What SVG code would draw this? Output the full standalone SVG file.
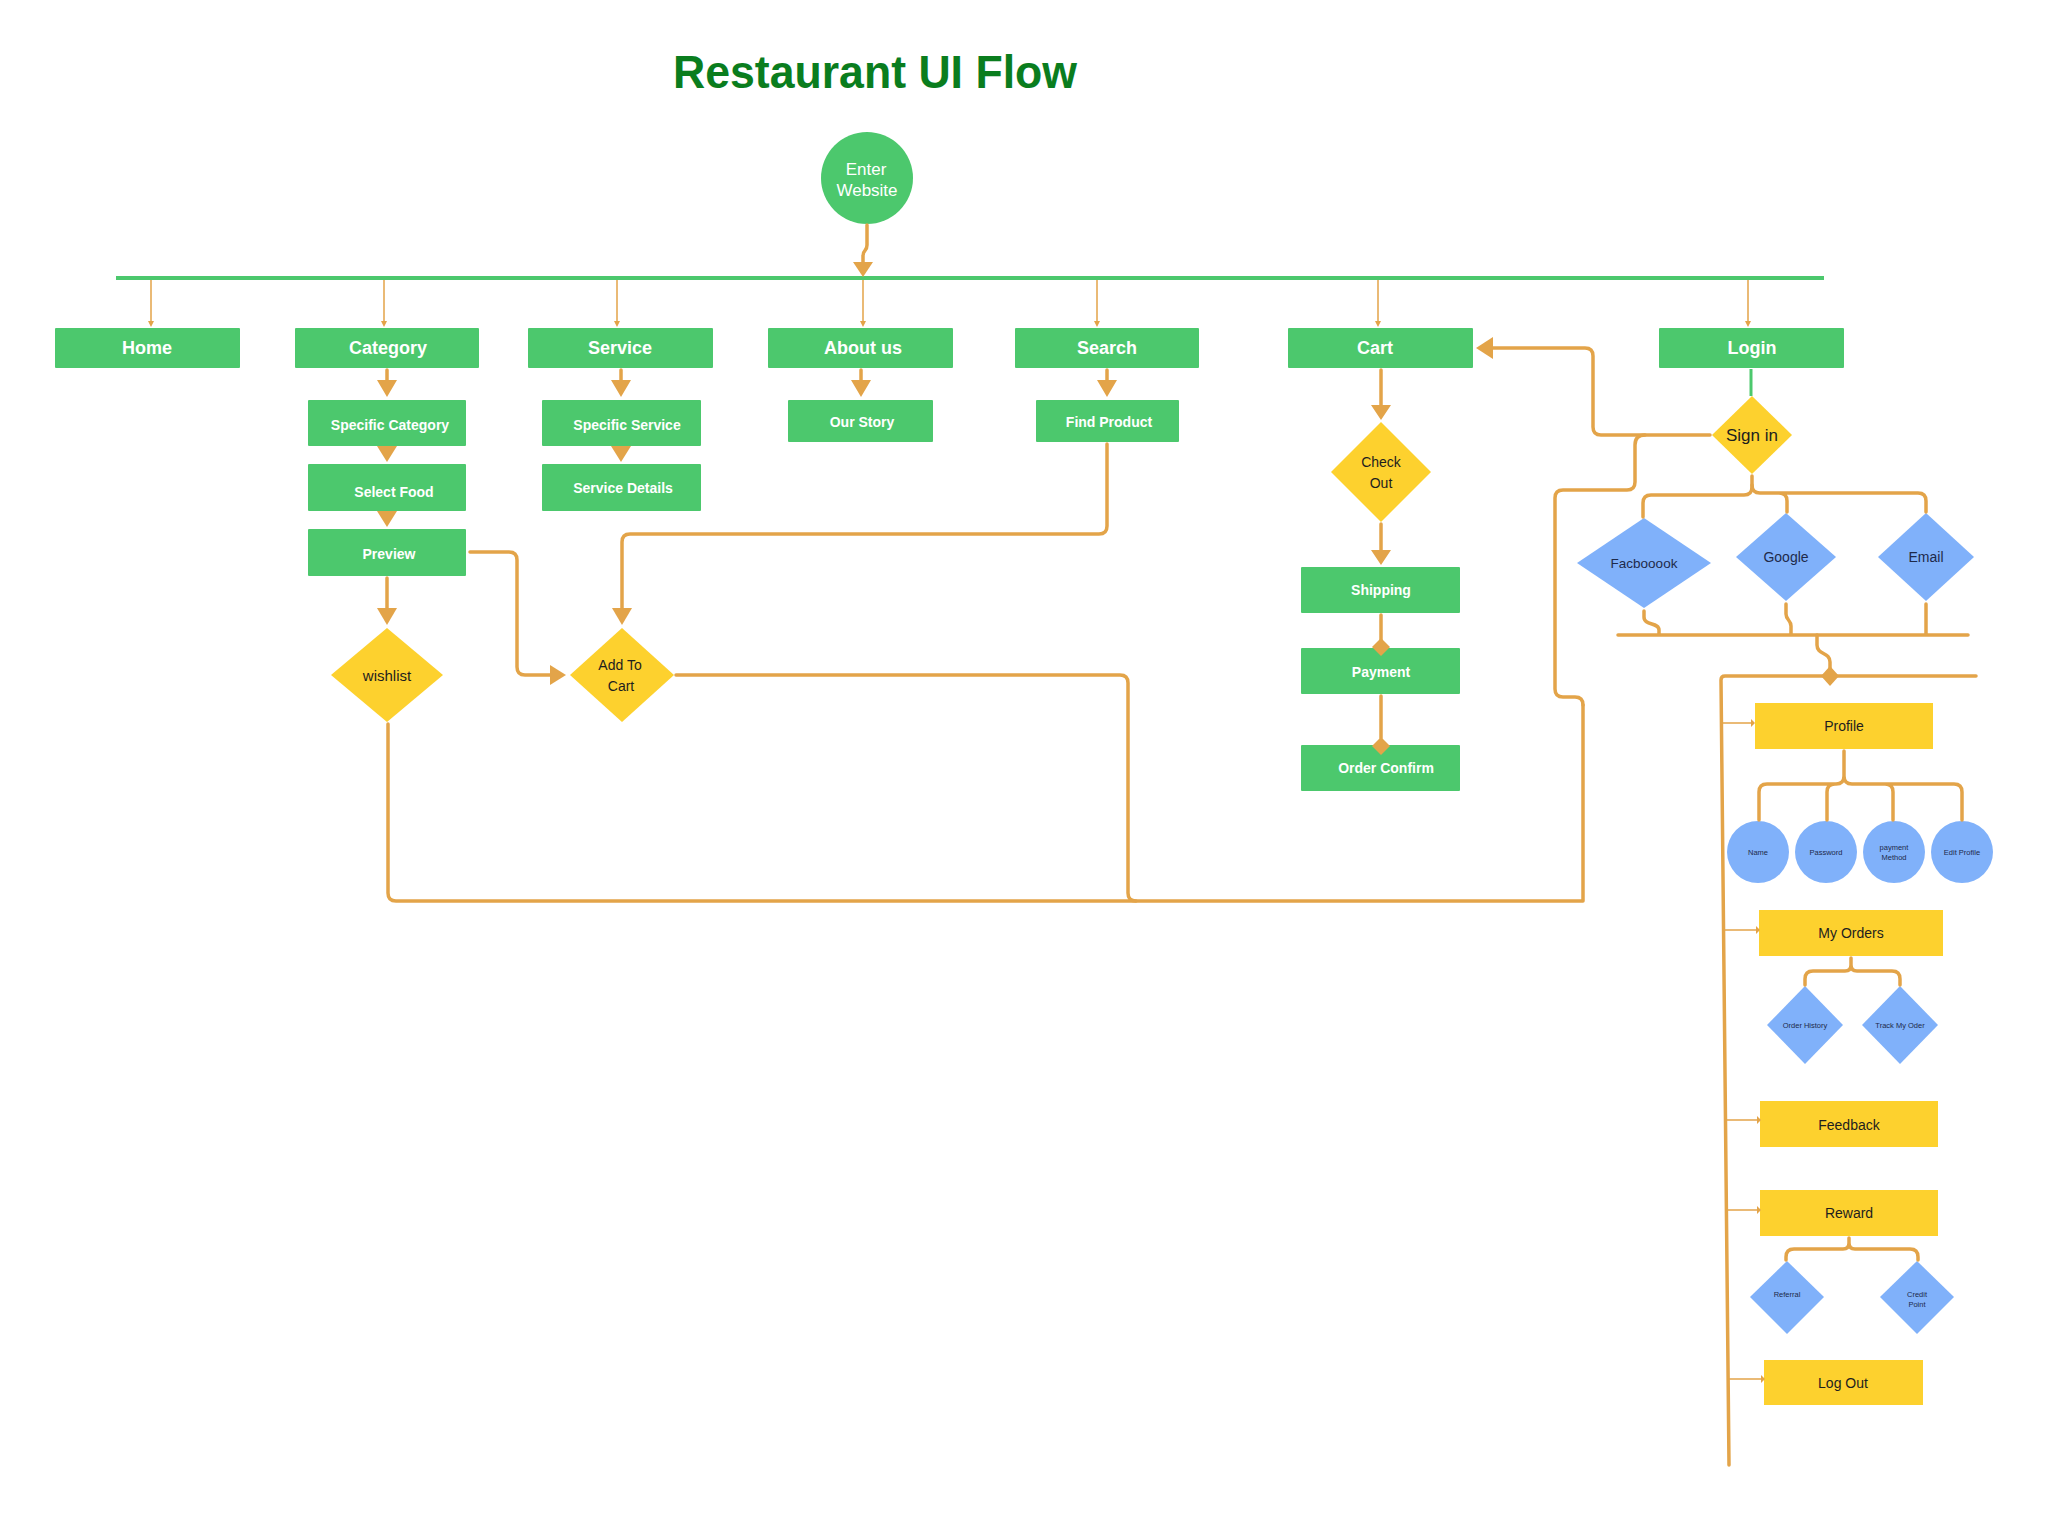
<svg xmlns="http://www.w3.org/2000/svg" width="2048" height="1520" viewBox="0 0 2048 1520">
<defs>
<style>
.g{fill:#4cc86d}
.y{fill:#fdd12e}
.b{fill:#80b1fa}
.c{fill:none;stroke:#e3a449;stroke-width:3.5;stroke-linejoin:round;stroke-linecap:round}
.t{fill:none;stroke:#e3a449;stroke-width:1.5}
.ah{fill:#e3a449}
.tw{font-family:"Liberation Sans",Arial,sans-serif;font-weight:bold;fill:#ffffff;text-anchor:middle}
.tn{font-family:"Liberation Sans",Arial,sans-serif;fill:#ffffff;text-anchor:middle;font-size:17px}
.td{font-family:"Liberation Sans",Arial,sans-serif;fill:#1e1e1e;text-anchor:middle}
.tb{font-family:"Liberation Sans",Arial,sans-serif;fill:#1e2a4a;text-anchor:middle}
.top{font-size:18px}
.sub{font-size:14px}
.tiny{font-size:7.5px}
</style>
</defs>
<rect width="2048" height="1520" fill="#ffffff"/>
<text x="875" y="88" font-family="'Liberation Sans',Arial,sans-serif" font-weight="bold" font-size="46" fill="#0a7d1e" text-anchor="middle" textLength="404" lengthAdjust="spacingAndGlyphs">Restaurant UI Flow</text>

<g id="enter-website"><circle class="g" cx="867" cy="178" r="46"/><text class="tn" x="866" y="175">Enter</text><text class="tn" x="867" y="196">Website</text></g>

<g id="home"><rect class="g" x="55" y="328" width="185" height="40" rx="1"/><text class="tw top" x="147" y="354">Home</text></g>
<g id="category"><rect class="g" x="295" y="328" width="184" height="40" rx="1"/><text class="tw top" x="388" y="354">Category</text></g>
<g id="service"><rect class="g" x="528" y="328" width="185" height="40" rx="1"/><text class="tw top" x="620" y="354">Service</text></g>
<g id="about-us"><rect class="g" x="768" y="328" width="185" height="40" rx="1"/><text class="tw top" x="863" y="354">About us</text></g>
<g id="search"><rect class="g" x="1015" y="328" width="184" height="40" rx="1"/><text class="tw top" x="1107" y="354">Search</text></g>
<g id="cart"><rect class="g" x="1288" y="328" width="185" height="40" rx="1"/><text class="tw top" x="1375" y="354">Cart</text></g>
<g id="login"><rect class="g" x="1659" y="328" width="185" height="40" rx="1"/><text class="tw top" x="1752" y="354">Login</text></g>

<g id="specific-category"><rect class="g" x="308" y="400" width="158" height="46" rx="1"/><text class="tw sub" x="390" y="430">Specific Category</text></g>
<g id="select-food"><rect class="g" x="308" y="464" width="158" height="47" rx="1"/><text class="tw sub" x="394" y="497">Select Food</text></g>
<g id="preview"><rect class="g" x="308" y="529" width="158" height="47" rx="1"/><text class="tw sub" x="389" y="559">Preview</text></g>
<g id="specific-service"><rect class="g" x="542" y="400" width="159" height="46" rx="1"/><text class="tw sub" x="627" y="430">Specific Service</text></g>
<g id="service-details"><rect class="g" x="542" y="464" width="159" height="47" rx="1"/><text class="tw sub" x="623" y="493">Service Details</text></g>
<g id="our-story"><rect class="g" x="788" y="400" width="145" height="42" rx="1"/><text class="tw sub" x="862" y="427">Our Story</text></g>
<g id="find-product"><rect class="g" x="1036" y="400" width="143" height="42" rx="1"/><text class="tw sub" x="1109" y="427">Find Product</text></g>

<g id="wishlist"><polygon class="y" points="387,628 443,675 387,722 331,675"/><text class="td" x="387" y="681" font-size="15">wishlist</text></g>
<g id="add-to-cart"><polygon class="y" points="622,628 674,675 622,722 570,675"/><text class="td" x="620" y="670" font-size="14">Add To</text><text class="td" x="621" y="691" font-size="14">Cart</text></g>

<g id="check-out"><polygon class="y" points="1381,422 1431,472 1381,522 1331,472"/><text class="td" x="1381" y="467" font-size="14">Check</text><text class="td" x="1381" y="488" font-size="14">Out</text></g>
<g id="shipping"><rect class="g" x="1301" y="567" width="159" height="46" rx="1"/><text class="tw sub" x="1381" y="595">Shipping</text></g>
<g id="payment"><rect class="g" x="1301" y="648" width="159" height="46" rx="1"/><text class="tw sub" x="1381" y="677">Payment</text></g>
<g id="order-confirm"><rect class="g" x="1301" y="745" width="159" height="46" rx="1"/><text class="tw sub" x="1386" y="773">Order Confirm</text></g>

<g id="sign-in"><polygon class="y" points="1752,396 1792,435 1752,474 1712,435"/><text class="td" x="1752" y="441" font-size="17">Sign in</text></g>
<g id="facebook"><polygon class="b" points="1644,518 1711,563 1644,608 1577,563"/><text class="tb" x="1644" y="568" font-size="13.5">Facbooook</text></g>
<g id="google"><polygon class="b" points="1786,513 1836,557 1786,601 1736,557"/><text class="tb" x="1786" y="562" font-size="14">Google</text></g>
<g id="email"><polygon class="b" points="1926,513 1974,557 1926,601 1878,557"/><text class="tb" x="1926" y="562" font-size="14">Email</text></g>

<g id="profile"><rect class="y" x="1755" y="703" width="178" height="46"/><text class="td" x="1844" y="731" font-size="14">Profile</text></g>
<g id="name"><circle class="b" cx="1758" cy="852" r="31"/><text class="tb tiny" x="1758" y="855">Name</text></g>
<g id="password"><circle class="b" cx="1826" cy="852" r="31"/><text class="tb tiny" x="1826" y="855">Password</text></g>
<g id="payment-method"><circle class="b" cx="1894" cy="852" r="31"/><text class="tb tiny" x="1894" y="850">payment</text><text class="tb tiny" x="1894" y="860">Method</text></g>
<g id="edit-profile"><circle class="b" cx="1962" cy="852" r="31"/><text class="tb tiny" x="1962" y="855">Edit Profile</text></g>

<g id="my-orders"><rect class="y" x="1759" y="910" width="184" height="46"/><text class="td" x="1851" y="938" font-size="14">My Orders</text></g>
<g id="order-history"><polygon class="b" points="1805,986 1843,1025 1805,1064 1767,1025"/><text class="tb tiny" x="1805" y="1028">Order History</text></g>
<g id="track-my-order"><polygon class="b" points="1900,986 1938,1025 1900,1064 1862,1025"/><text class="tb tiny" x="1900" y="1028">Track My Oder</text></g>

<g id="feedback"><rect class="y" x="1760" y="1101" width="178" height="46"/><text class="td" x="1849" y="1130" font-size="14">Feedback</text></g>
<g id="reward"><rect class="y" x="1760" y="1190" width="178" height="46"/><text class="td" x="1849" y="1218" font-size="14">Reward</text></g>
<g id="referral"><polygon class="b" points="1787,1261 1824,1297 1787,1334 1750,1297"/><text class="tb tiny" x="1787" y="1297">Referral</text></g>
<g id="credit-point"><polygon class="b" points="1917,1261 1954,1297 1917,1334 1880,1297"/><text class="tb tiny" x="1917" y="1297">Credit</text><text class="tb tiny" x="1917" y="1307">Point</text></g>
<g id="log-out"><rect class="y" x="1764" y="1360" width="159" height="45"/><text class="td" x="1843" y="1388" font-size="14">Log Out</text></g>

<g id="connectors">
<line x1="116" y1="278" x2="1824" y2="278" stroke="#4cc86d" stroke-width="4"/>
<path class="c" d="M867,225 V245 C867,252 863,249 863,256 V262"/>
<polygon class="ah" points="853,262 873,262 863,277"/>
<g>
<path class="t" d="M151,280 V322 M384,280 V322 M617,280 V322 M863,280 V322 M1097,280 V322 M1378,280 V322 M1748,280 V322"/>
<path class="ah" d="M148,321 h6 l-3,6z M381,321 h6 l-3,6z M614,321 h6 l-3,6z M860,321 h6 l-3,6z M1094,321 h6 l-3,6z M1375,321 h6 l-3,6z M1745,321 h6 l-3,6z"/>
</g>
<path class="c" d="M387,370 V381 M621,370 V381 M861,370 V381 M1107,370 V381"/>
<path class="ah" d="M377,380 h20 l-10,17z M611,380 h20 l-10,17z M851,380 h20 l-10,17z M1097,380 h20 l-10,17z"/>
<path class="ah" d="M377,446 h20 l-10,16z M377,511 h20 l-10,16z M611,446 h20 l-10,16z"/>
<path class="c" d="M387,578 V609"/>
<polygon class="ah" points="377,608 397,608 387,625"/>
<path class="c" d="M470,552 H509 Q517,552 517,560 V667 Q517,675 525,675 H551"/>
<polygon class="ah" points="550,665 550,685 566,675"/>
<path class="c" d="M1107,444 V526 Q1107,534 1099,534 H630 Q622,534 622,542 V609"/>
<polygon class="ah" points="612,608 632,608 622,625"/>
<path class="c" d="M676,675 H1120 Q1128,675 1128,683 V893 Q1128,901 1136,901"/>
<path class="c" d="M388,724 V893 Q388,901 396,901 H1583 V705"/>
<path class="c" d="M1710,435 H1601 Q1593,435 1593,427 V356 Q1593,348 1585,348 H1492"/>
<polygon class="ah" points="1493,337 1493,359 1476,348"/>
<path class="c" d="M1645,435 Q1635,435 1635,445 V482 Q1635,490 1627,490 H1563 Q1555,490 1555,498 V689 Q1555,697 1563,697 H1575 Q1583,697 1583,705"/>
<line x1="1751" y1="369" x2="1751" y2="396" stroke="#4cc86d" stroke-width="3"/>
<path class="c" d="M1752,476 V487 Q1752,495 1744,495 H1651 Q1643,495 1643,503 V517"/>
<path class="c" d="M1752,485 Q1752,493 1760,493 H1918 Q1926,493 1926,501 V512 M1779,493 Q1787,493 1787,501 V512"/>
<path class="c" d="M1644,611 V617 C1644,626 1659,622 1659,630 V635 M1786,604 V614 C1786,620 1791,620 1791,626 V635 M1926,604 V635 M1618,635 H1968"/>
<path class="c" d="M1817,635 V645 C1817,655 1830,652 1830,662 V676"/>
<path class="c" d="M1976,676 H1725 Q1721,676 1721,680 L1729,1465"/>
<polygon class="ah" points="1830,666 1839,676 1830,686 1821,676"/>
<path class="t" d="M1722,723 H1752 M1723,930 H1757 M1725,1120 H1758 M1726,1210 H1758 M1728,1379 H1762"/>
<path class="ah" d="M1751,719 l4,4 l-4,4z M1756,926 l4,4 l-4,4z M1757,1116 l4,4 l-4,4z M1757,1206 l4,4 l-4,4z M1761,1375 l4,4 l-4,4z"/>
<path class="c" d="M1844,751 V776 Q1844,784 1836,784 H1767 Q1759,784 1759,792 V820 M1844,776 Q1844,784 1852,784 H1954 Q1962,784 1962,792 V820 M1835,784 Q1827,784 1827,792 V820 M1885,784 Q1893,784 1893,792 V820"/>
<path class="c" d="M1851,958 V965 Q1851,971 1845,971 H1813 Q1805,971 1805,979 V985 M1851,965 Q1851,971 1857,971 H1892 Q1900,971 1900,979 V985"/>
<path class="c" d="M1849,1238 V1243 Q1849,1249 1843,1249 H1794 Q1786,1249 1786,1257 V1260 M1849,1243 Q1849,1249 1855,1249 H1910 Q1918,1249 1918,1257 V1260"/>
<path class="c" d="M1381,370 V406 M1381,524 V551 M1381,615 V640 M1381,696 V738"/>
<path class="ah" d="M1371,405 h20 l-10,15z M1371,550 h20 l-10,15z"/>
<polygon class="ah" points="1381,638 1390,647 1381,656 1372,647"/>
<polygon class="ah" points="1381,737 1390,746 1381,755 1372,746"/>
</g>
</svg>
